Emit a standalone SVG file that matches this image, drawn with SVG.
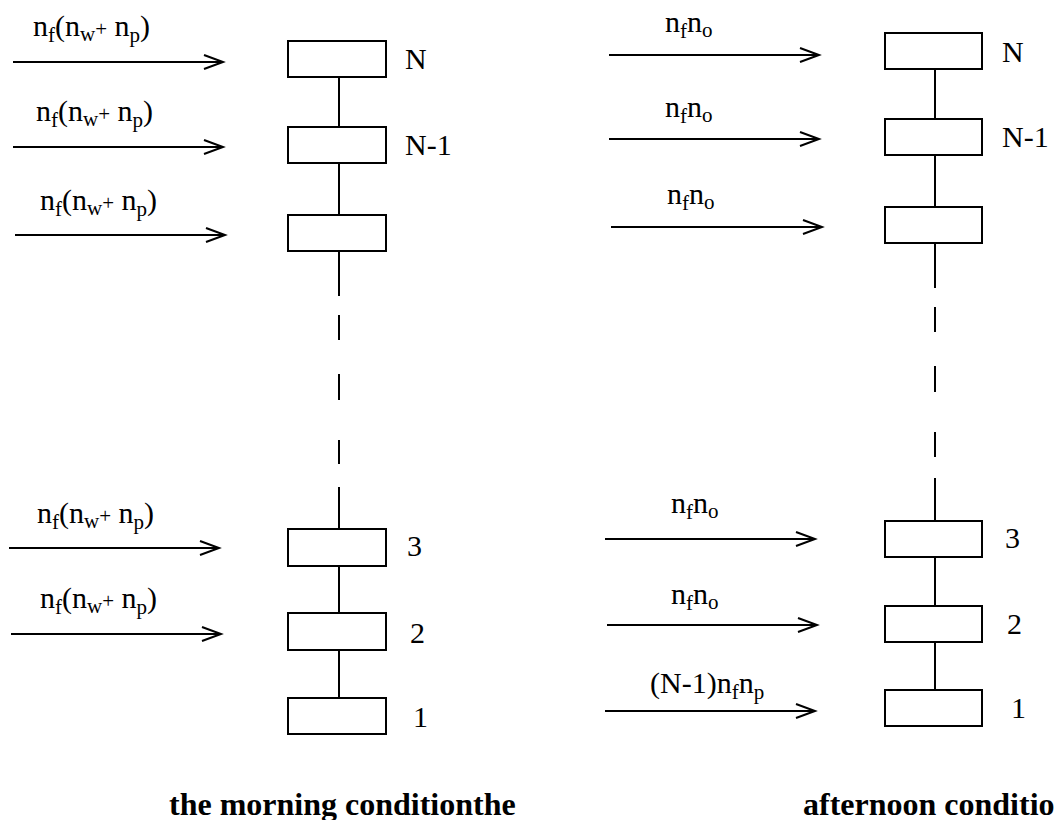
<svg xmlns="http://www.w3.org/2000/svg" width="1054" height="820" viewBox="0 0 1054 820">
<style>
.lbl{font-family:"Liberation Serif","Times New Roman",serif;font-size:30px;fill:#000}
.sub{font-size:21px}
.num{font-family:"Liberation Serif","Times New Roman",serif;font-size:30px;fill:#000}
.cap{font-family:"Liberation Serif","Times New Roman",serif;font-size:32px;font-weight:bold;fill:#000}
.box{fill:#fff;stroke:#000;stroke-width:2}
.ln{stroke:#000;stroke-width:2;fill:none}
.arr{stroke:#000;stroke-width:2;fill:none;marker-end:url(#ah)}
</style>
<defs>
<marker id="ah" markerUnits="userSpaceOnUse" markerWidth="24" markerHeight="20" refX="20" refY="8" orient="auto">
<path d="M1,1 L20,8 L1,15" fill="none" stroke="#000" stroke-width="2"/>
</marker>
</defs>
<rect width="1054" height="820" fill="#fff"/>
<g id="connectors">
<line class="ln" x1="339" y1="77" x2="339" y2="127"/>
<line class="ln" x1="339" y1="163" x2="339" y2="215"/>
<line class="ln" x1="339" y1="251" x2="339" y2="296"/>
<line class="ln" x1="339" y1="315" x2="339" y2="340"/>
<line class="ln" x1="339" y1="374" x2="339" y2="400"/>
<line class="ln" x1="339" y1="440" x2="339" y2="464"/>
<line class="ln" x1="339" y1="487" x2="339" y2="529"/>
<line class="ln" x1="339" y1="566" x2="339" y2="613"/>
<line class="ln" x1="339" y1="650" x2="339" y2="698"/>
<line class="ln" x1="935" y1="69" x2="935" y2="119"/>
<line class="ln" x1="935" y1="155" x2="935" y2="207"/>
<line class="ln" x1="935" y1="243" x2="935" y2="288"/>
<line class="ln" x1="935" y1="307" x2="935" y2="332"/>
<line class="ln" x1="935" y1="366" x2="935" y2="392"/>
<line class="ln" x1="935" y1="432" x2="935" y2="457"/>
<line class="ln" x1="935" y1="478" x2="935" y2="521"/>
<line class="ln" x1="935" y1="557" x2="935" y2="606"/>
<line class="ln" x1="935" y1="642" x2="935" y2="690"/>
<line class="arr" x1="13" y1="62" x2="223" y2="62"/>
<line class="arr" x1="13" y1="147" x2="223" y2="147"/>
<line class="arr" x1="15" y1="235" x2="225" y2="235"/>
<line class="arr" x1="9" y1="548" x2="219" y2="548"/>
<line class="arr" x1="11" y1="634" x2="221" y2="634"/>
<line class="arr" x1="609" y1="55" x2="819" y2="55"/>
<line class="arr" x1="609" y1="139" x2="819" y2="139"/>
<line class="arr" x1="611" y1="227" x2="822" y2="227"/>
<line class="arr" x1="605" y1="539" x2="815" y2="539"/>
<line class="arr" x1="607" y1="625" x2="817" y2="625"/>
<line class="arr" x1="605" y1="711" x2="815" y2="711"/>
</g>
<g id="left-labels" class="lbl">
<text x="33" y="36">n<tspan class="sub" dy="6">f</tspan><tspan dy="-6">(n</tspan><tspan class="sub" dy="5">w</tspan><tspan class="sub" dy="-5">+</tspan><tspan> n</tspan><tspan class="sub" dy="6">p</tspan><tspan dy="-6">)</tspan></text>
<text x="36" y="121">n<tspan class="sub" dy="6">f</tspan><tspan dy="-6">(n</tspan><tspan class="sub" dy="5">w</tspan><tspan class="sub" dy="-5">+</tspan><tspan> n</tspan><tspan class="sub" dy="6">p</tspan><tspan dy="-6">)</tspan></text>
<text x="40" y="210">n<tspan class="sub" dy="6">f</tspan><tspan dy="-6">(n</tspan><tspan class="sub" dy="5">w</tspan><tspan class="sub" dy="-5">+</tspan><tspan> n</tspan><tspan class="sub" dy="6">p</tspan><tspan dy="-6">)</tspan></text>
<text x="37" y="523">n<tspan class="sub" dy="6">f</tspan><tspan dy="-6">(n</tspan><tspan class="sub" dy="5">w</tspan><tspan class="sub" dy="-5">+</tspan><tspan> n</tspan><tspan class="sub" dy="6">p</tspan><tspan dy="-6">)</tspan></text>
<text x="40" y="608">n<tspan class="sub" dy="6">f</tspan><tspan dy="-6">(n</tspan><tspan class="sub" dy="5">w</tspan><tspan class="sub" dy="-5">+</tspan><tspan> n</tspan><tspan class="sub" dy="6">p</tspan><tspan dy="-6">)</tspan></text>
</g>
<g id="right-labels" class="lbl">
<text x="665" y="32">n<tspan class="sub" dy="6">f</tspan><tspan dy="-6">n</tspan><tspan class="sub" dy="5">o</tspan></text>
<text x="665" y="117">n<tspan class="sub" dy="6">f</tspan><tspan dy="-6">n</tspan><tspan class="sub" dy="5">o</tspan></text>
<text x="667" y="204">n<tspan class="sub" dy="6">f</tspan><tspan dy="-6">n</tspan><tspan class="sub" dy="5">o</tspan></text>
<text x="671" y="513">n<tspan class="sub" dy="6">f</tspan><tspan dy="-6">n</tspan><tspan class="sub" dy="5">o</tspan></text>
<text x="671" y="604">n<tspan class="sub" dy="6">f</tspan><tspan dy="-6">n</tspan><tspan class="sub" dy="5">o</tspan></text>
<text x="650" y="693">(N-1)n<tspan class="sub" dy="6">f</tspan><tspan dy="-6">n</tspan><tspan class="sub" dy="6">p</tspan></text>
</g>
<g id="node-L-N"><rect class="box" x="288" y="41" width="98" height="36"/><text class="num" x="405" y="69">N</text></g>
<g id="node-L-N1"><rect class="box" x="288" y="127" width="98" height="36"/><text class="num" x="405" y="155">N-1</text></g>
<g id="node-L-N2"><rect class="box" x="288" y="215" width="98" height="36"/></g>
<g id="node-L-3"><rect class="box" x="288" y="529" width="98" height="37"/><text class="num" x="407" y="556">3</text></g>
<g id="node-L-2"><rect class="box" x="288" y="613" width="98" height="37"/><text class="num" x="410" y="643">2</text></g>
<g id="node-L-1"><rect class="box" x="288" y="698" width="98" height="36"/><text class="num" x="413" y="727">1</text></g>
<g id="node-R-N"><rect class="box" x="885" y="33" width="97" height="36"/><text class="num" x="1002" y="62">N</text></g>
<g id="node-R-N1"><rect class="box" x="885" y="119" width="97" height="36"/><text class="num" x="1002" y="147">N-1</text></g>
<g id="node-R-N2"><rect class="box" x="885" y="207" width="97" height="36"/></g>
<g id="node-R-3"><rect class="box" x="885" y="521" width="97" height="36"/><text class="num" x="1005" y="548">3</text></g>
<g id="node-R-2"><rect class="box" x="885" y="606" width="97" height="36"/><text class="num" x="1007" y="634">2</text></g>
<g id="node-R-1"><rect class="box" x="885" y="690" width="97" height="36"/><text class="num" x="1011" y="718">1</text></g>
<g id="captions">
<text class="cap" x="169" y="815">the morning conditionthe</text>
<text class="cap" x="803" y="815">afternoon conditio</text>
</g>
</svg>
